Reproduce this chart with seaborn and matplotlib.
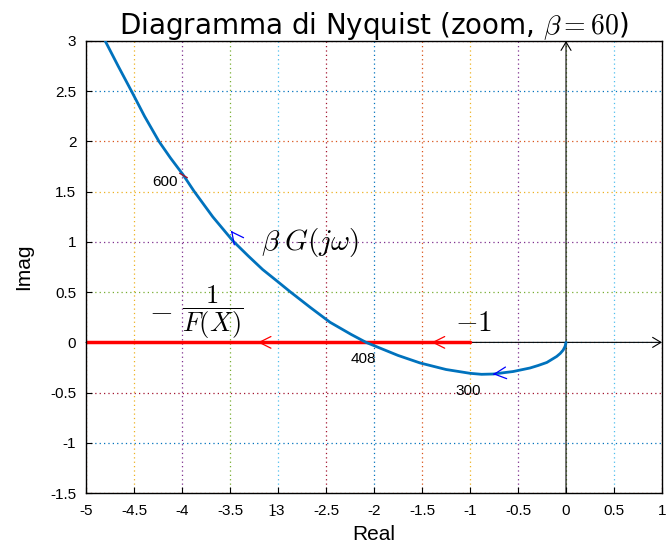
import matplotlib
matplotlib.use("Agg")
import matplotlib.pyplot as plt
import seaborn as sns
import pandas as pd

# Nyquist curve of beta*G(jw) (from the origin outward)
re_g = [0.0, -0.01, -0.03, -0.06, -0.097, -0.2, -0.29, -0.375, -0.55, -0.757, -0.88,
        -1.0, -1.25, -1.52, -1.75, -1.94, -2.083, -2.24, -2.458, -2.66, -2.875,
        -3.01, -3.16, -3.31, -3.47, -3.68, -3.875, -3.99, -4.12, -4.24, -4.39,
        -4.526, -4.665, -4.80]
im_g = [0.0, -0.04, -0.077, -0.11, -0.14, -0.2, -0.23, -0.255, -0.29, -0.315, -0.318,
        -0.308, -0.27, -0.205, -0.13, -0.056, 0.0, 0.08, 0.2, 0.345, 0.505,
        0.61, 0.725, 0.86, 1.01, 1.25, 1.505, 1.67, 1.835, 2.0, 2.25,
        2.5, 2.75, 3.0]

# -1/F(X) locus on the negative real axis
re_f = [-5.0, -1.0]
im_f = [0.0, 0.0]

# frequency labels
w_labels = ["600", "408", "300"]
w_re = [-4.18, -2.11, -1.02]
w_im = [1.60, -0.17, -0.485]

xticks = [-5, -4.5, -4, -3.5, -3, -2.5, -2, -1.5, -1, -0.5, 0, 0.5, 1]
yticks = [-1.5, -1, -0.5, 0, 0.5, 1, 1.5, 2, 2.5, 3]

mcolors = ["#0072BD", "#D95319", "#EDB120", "#7E2F8E", "#77AC30", "#4DBEEE", "#A2142F"]

sns.set_theme(style="white")
plt.rcParams["font.family"] = ["Liberation Sans", "DejaVu Sans"]
plt.rcParams["mathtext.fontset"] = "cm"
plt.rcParams["text.color"] = "black"
plt.rcParams["axes.labelcolor"] = "black"

fig = plt.figure(figsize=(6.7, 5.54), dpi=100)
ax = fig.add_axes([0.1284, 0.110, 0.8597, 0.816])

# coloured dotted grid (MATLAB colour order)
for i, x in enumerate(xticks):
    ax.axvline(x, color=mcolors[(i + 1) % 7], ls=(0, (1, 2.5)), lw=0.9, zorder=0)
for i, y in enumerate(yticks):
    ax.axhline(y, color=mcolors[(1 - i) % 7], ls=(0, (1, 2.5)), lw=0.9, zorder=0)

# real / imaginary axes with arrows
ax.annotate("", xy=(1.0, 0), xytext=(-5.0, 0),
            arrowprops=dict(arrowstyle="->,head_length=0.5,head_width=0.3", color="black", lw=0.8,
                            shrinkA=0, shrinkB=0), zorder=1)
ax.annotate("", xy=(0, 3.0), xytext=(0, -1.5),
            arrowprops=dict(arrowstyle="->,head_length=0.5,head_width=0.3", color="black", lw=0.8,
                            shrinkA=0, shrinkB=0), zorder=1)

df_f = pd.DataFrame({"re": re_f, "im": im_f})
sns.lineplot(data=df_f, x="re", y="im", color="#FF0000", lw=2.5, sort=False, ax=ax, zorder=2)

df_g = pd.DataFrame({"re": re_g, "im": im_g})
sns.lineplot(data=df_g, x="re", y="im", color="#0072BD", lw=2, sort=False, ax=ax, zorder=3)

def chevron(tip, tail, color):
    ax.annotate("", xy=tip, xytext=tail,
                arrowprops=dict(arrowstyle="->,head_length=0.7,head_width=0.35", color=color,
                                lw=0.9, shrinkA=0, shrinkB=0), zorder=4)

chevron((-3.21, 0), (-3.20, 0), "#FF0000")
chevron((-1.40, 0), (-1.39, 0), "#FF0000")
chevron((-3.49, 1.11), (-3.482, 1.10), "#0000FF")
chevron((-0.76, -0.317), (-0.75, -0.316), "#0000FF")

ax.plot([-3.99], [1.67], marker=(2, 0, 60), ms=7, mec="#A2142F", mew=1, zorder=5)

for lab, x, y in zip(w_labels, w_re, w_im):
    ax.text(x, y, lab, fontsize=11, ha="center", va="center")

ax.text(-2.66, 0.99, r"$\beta\;G(j\omega)$", fontsize=21, ha="center", va="center")
ax.text(-4.22, 0.316, r"$-$", fontsize=22, ha="center", va="center")
ax.text(-3.68, 0.30, r"$\dfrac{1}{F(X)}$", fontsize=19, ha="center", va="center")
ax.text(-0.96, 0.05, r"$-1$", fontsize=21, ha="center", va="bottom")
ax.text(-3.07, -1.68, r"$1$", fontsize=13, ha="center", va="center", clip_on=False)

ax.set_xlim(-5, 1)
ax.set_ylim(-1.5, 3)
ax.set_xticks(xticks)
ax.set_yticks(yticks)
ax.set_xticklabels([f"{t:g}" for t in xticks])
ax.set_yticklabels([f"{t:g}" for t in yticks])
ax.tick_params(direction="in", length=4, width=0.8, labelsize=11, colors="black",
               bottom=True, left=True, top=False, right=False)
ax.tick_params(axis="x", pad=8)
ax.tick_params(axis="y", pad=7)
for s in ax.spines.values():
    s.set_color("black")
    s.set_linewidth(1.0)

ax.set_xlabel("Real", fontsize=15, labelpad=5)
ax.set_ylabel("Imag", fontsize=15, labelpad=12)
ax.set_title(r"Diagramma di Nyquist (zoom, $\beta = 60$)", fontsize=20,
             family=["DejaVu Sans"], color="black", pad=5)

fig.savefig("out.png", dpi=100)
